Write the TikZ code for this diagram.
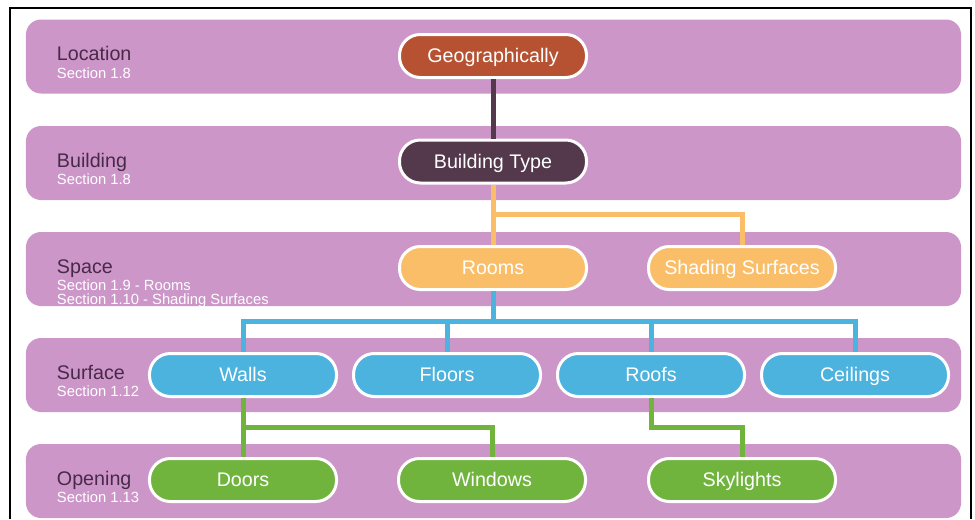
\documentclass[tikz,border=0pt]{standalone}
\usepackage{fontspec}
\setmainfont{Liberation Sans}
\usetikzlibrary{positioning,calc}
\definecolor{bandpurple}{RGB}{205,150,201}
\definecolor{lvltext}{RGB}{72,42,72}
\definecolor{geobrown}{RGB}{182,82,50}
\definecolor{typepurple}{RGB}{84,56,76}
\definecolor{roomorange}{RGB}{250,190,105}
\definecolor{surfblue}{RGB}{76,178,222}
\definecolor{opengreen}{RGB}{112,180,62}
\newcommand\levelband[4]{
\node[band] (#1) at (493.5,#2) {};
\node[lvltitle,anchor=base west] (#1t) at ($(#1.west)+(31,4)$) {#3};
\node[lvlsec,anchor=north west] (#1s) at ($(#1t.base west)+(0,7)$) {#4};
}

\begin{document}
\begin{tikzpicture}[x=0.25mm,y=-0.25mm,node distance=3.5mm,
band/.style={
  fill=bandpurple,
  rounded corners=3.75mm,
  minimum width=233.75mm,
  minimum height=18.5mm,
  inner sep=0pt},
lvltitle/.style={inner sep=0pt,text=lvltext,font=\fontsize{14}{15}\selectfont},
lvlsec/.style={inner sep=0pt,text=white,align=left,font=\fontsize{10.5}{9.4}\selectfont},
pill/.style={
  draw=white,
  line width=0.75mm,
  rounded corners=5.2mm,
  minimum width=46.75mm,
  minimum height=10.75mm,
  inner sep=0pt,
  text height=12pt,
  text depth=2.7pt,
  text=white,
  font=\fontsize{14}{16}\selectfont},
geopill/.style={pill,fill=geobrown},
typepill/.style={pill,fill=typepurple},
roompill/.style={pill,fill=roomorange},
surfpill/.style={pill,fill=surfblue},
openpill/.style={pill,fill=opengreen},
link/.style={line width=1.25mm},
]
\useasboundingbox (0,0) rectangle (975,519);
\draw[line width=0.5mm] (10,519) -- (10,8) -- (971,8) -- (971,519);
\levelband{locband}{56.5}{Location}{Section 1.8}
\levelband{bldband}{163}{Building}{Section 1.8}
\levelband{spcband}{269}{Space}{Section 1.9 - Rooms\\Section 1.10 - Shading Surfaces}
\levelband{srfband}{375}{Surface}{Section 1.12}
\levelband{opnband}{481}{Opening}{Section 1.13}
\node[geopill] (geo) at (493,56) {Geographically};
\node[typepill] (btype) at (493,161.5) {Building Type};
\node[roompill] (rooms) at (493,268) {Rooms};
\node[roompill] (shading) at (742,268) {Shading Surfaces};
\node[surfpill] (walls) at (243,375) {Walls};
\node[surfpill,right=of walls] (floors) {Floors};
\node[surfpill,right=of floors] (roofs) {Roofs};
\node[surfpill,right=of roofs] (ceilings) {Ceilings};
\node[openpill] (doors) at (243,480) {Doors};
\node[openpill] (windows) at (492,480) {Windows};
\node[openpill] (skylights) at (742,480) {Skylights};
% connectors
\draw[link,typepurple] (geo.south) -- (btype.north);
\coordinate (ojoin) at ($(btype.south)!0.5!(rooms.north)$);
\draw[link,roomorange] (btype.south) -- (rooms.north);
\draw[link,roomorange] (ojoin) -| (shading.north);
\coordinate (bjoin) at ($(rooms.south)!0.5!(rooms.south|-walls.north)$);
\draw[link,surfblue] (rooms.south) -- (bjoin);
\foreach \n in {walls,floors,roofs,ceilings}
  \draw[link,surfblue] (bjoin) -| (\n.north);
\coordinate (gjoin) at ($(walls.south)!0.5!(doors.north)$);
\draw[link,opengreen] (walls.south) -- (doors.north);
\draw[link,opengreen] (gjoin) -| (windows.north);
\coordinate (rjoin) at ($(roofs.south)!0.5!(roofs.south|-skylights.north)$);
\draw[link,opengreen] (roofs.south) -- (rjoin) -| (skylights.north);
\end{tikzpicture}
\end{document}
